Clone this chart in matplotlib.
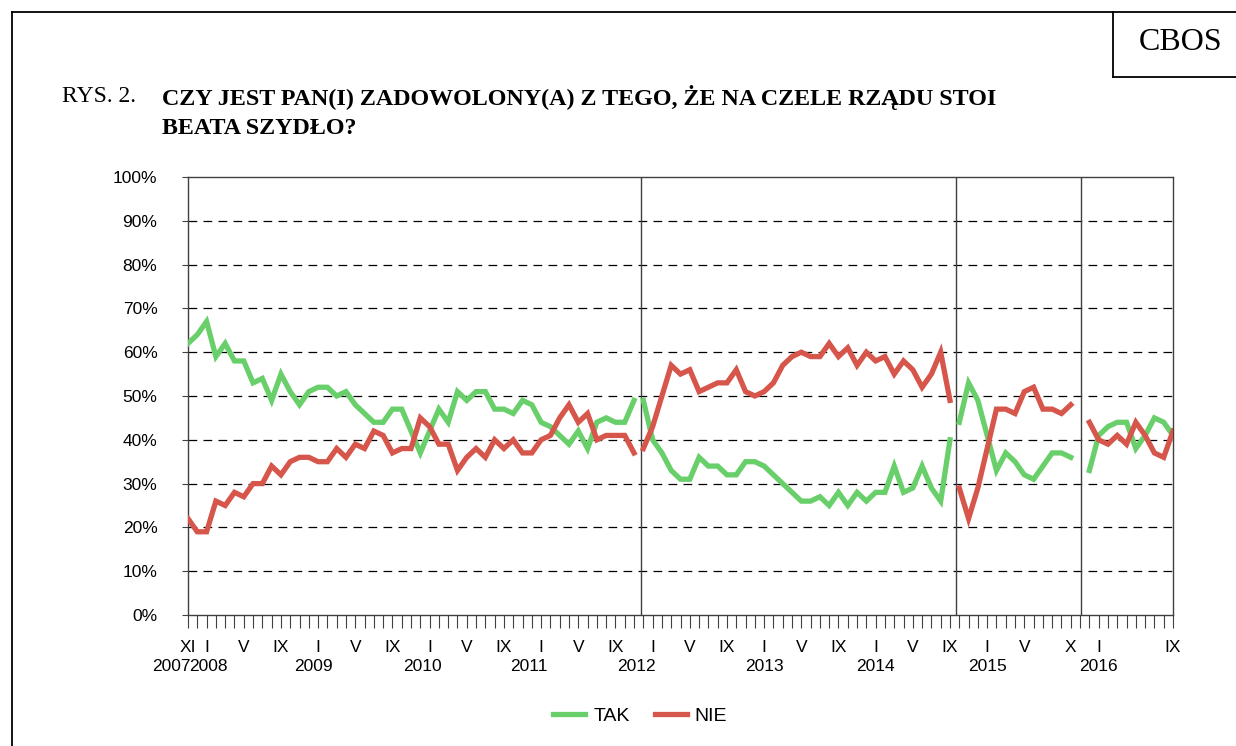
import numpy as np
import pandas as pd
import matplotlib
matplotlib.use("Agg")
import matplotlib.pyplot as plt
from matplotlib.lines import Line2D
from matplotlib.transforms import blended_transform_factory

# months on the category axis
months = pd.period_range("2007-11", "2016-09", freq="M")

# government periods (first month, last month)
periods = [("2007-11", "2011-11"), ("2011-12", "2014-09"),
           ("2014-10", "2015-10"), ("2015-12", "2016-09")]

tak_1 = [62, 64, 67, 59, 62, 58, 58, 53, 54, 49, 55, 51, 48, 51, 52, 52, 50, 51, 48, 46,
         44, 44, 47, 47, 42, 37, 42, 47, 44, 51, 49, 51, 51, 47, 47, 46, 49, 48, 44, 43,
         41, 39, 42, 38, 44, 45, 44, 44, 49]
nie_1 = [22, 19, 19, 26, 25, 28, 27, 30, 30, 34, 32, 35, 36, 36, 35, 35, 38, 36, 39, 38,
         42, 41, 37, 38, 38, 45, 43, 39, 39, 33, 36, 38, 36, 40, 38, 40, 37, 37, 40, 41,
         45, 48, 44, 46, 40, 41, 41, 41, 37]
tak_2 = [49, 40, 37, 33, 31, 31, 36, 34, 34, 32, 32, 35, 35, 34, 32, 30, 28, 26, 26, 27,
         25, 28, 25, 28, 26, 28, 28, 34, 28, 29, 34, 29, 26, 40]
nie_2 = [38, 43, 50, 57, 55, 56, 51, 52, 53, 53, 56, 51, 50, 51, 53, 57, 59, 60, 59, 59,
         62, 59, 61, 57, 60, 58, 59, 55, 58, 56, 52, 55, 60, 49]
tak_3 = [44, 53, 49, 41, 33, 37, 35, 32, 31, 34, 37, 37, 36]
nie_3 = [29, 22, 29, 38, 47, 47, 46, 51, 52, 47, 47, 46, 48]
tak_4 = [33, 41, 43, 44, 44, 38, 41, 45, 44, 41]
nie_4 = [44, 40, 39, 41, 39, 44, 41, 37, 36, 42]

tak = [tak_1, tak_2, tak_3, tak_4]
nie = [nie_1, nie_2, nie_3, nie_4]

month_labels = {"2007-11": "XI", "2008-01": "I", "2008-05": "V", "2008-09": "IX",
                "2009-01": "I", "2009-05": "V", "2009-09": "IX",
                "2010-01": "I", "2010-05": "V", "2010-09": "IX",
                "2011-01": "I", "2011-05": "V", "2011-09": "IX",
                "2012-01": "I", "2012-05": "V", "2012-09": "IX",
                "2013-01": "I", "2013-05": "V", "2013-09": "IX",
                "2014-01": "I", "2014-05": "V", "2014-09": "IX",
                "2015-01": "I", "2015-05": "V", "2015-10": "X",
                "2016-01": "I", "2016-09": "IX"}
years = ["2007", "2008", "2009", "2010", "2011", "2012", "2013", "2014", "2015", "2016"]
year_pos = [-1.8, 2.2, 13.5, 25.2, 36.7, 48.3, 62, 74, 86, 98]
separators = [48.75, 82.6, 96.1]

GREEN = "#68cf6b"
RED = "#d6564b"

plt.rcParams["font.family"] = ["Liberation Sans", "DejaVu Sans"]
fig = plt.figure(figsize=(12.36, 7.46), dpi=100)
W, H = 1236, 746
ax = fig.add_axes([188 / W, 1 - 615 / H, (1173 - 188) / W, (615 - 177) / H])

idx = {str(m): i for i, m in enumerate(months)}
for (a, b), t, n in zip(periods, tak, nie):
    x = np.arange(idx[a], idx[b] + 1)
    ax.plot(x, t, color=GREEN, lw=3.8, solid_joinstyle="miter", zorder=3)
    ax.plot(x, n, color=RED, lw=3.8, solid_joinstyle="miter", zorder=3)

for s in separators:
    ax.axvline(s, color="#404040", lw=1.0, zorder=2)

ax.set_xlim(0, len(months) - 1)
ax.set_ylim(0, 100)
ax.set_yticks(range(0, 101, 10))
ax.set_yticklabels([f"{v}%" for v in range(0, 101, 10)], fontsize=12.5)
for v in range(10, 100, 10):
    ax.axhline(v, color="black", lw=0.9, dashes=(7, 5), zorder=1)
ax.tick_params(axis="y", length=4, width=0.8, pad=18, color="#404040")
ax.set_xticks(np.arange(len(months)))
ax.set_xticklabels([])
ax.tick_params(axis="x", length=9, width=0.8, color="#404040")
for sp in ax.spines.values():
    sp.set_color("#404040")
    sp.set_linewidth(1.0)

tr = blended_transform_factory(ax.transData, ax.transAxes)
for m, lab in month_labels.items():
    ax.text(idx[m], -0.075, lab, transform=tr, ha="center", va="center", fontsize=12.5)
for yr, p in zip(years, year_pos):
    ax.text(p, -0.118, yr, transform=tr, ha="center", va="center", fontsize=12.5)

handles = [Line2D([], [], color=GREEN, lw=3.8), Line2D([], [], color=RED, lw=3.8)]
fig.legend(handles, ["TAK", "NIE"], loc="center", bbox_to_anchor=(0.518, 1 - 716 / H),
           ncol=2, frameon=False, fontsize=14, handlelength=1.65, columnspacing=1.3,
           handletextpad=0.4)

serif = ["Liberation Serif", "DejaVu Serif"]
fig.text(62 / W, 1 - 97 / H, "RYS. 2.", family=serif, fontsize=17, va="center")
fig.text(162 / W, 1 - 97 / H, "CZY JEST PAN(I) ZADOWOLONY(A) Z TEGO, ŻE NA CZELE RZĄDU STOI",
         family=serif, fontsize=17.25, weight="bold", va="center")
fig.text(162 / W, 1 - 128 / H, "BEATA SZYDŁO?", family=serif, fontsize=17.25,
         weight="bold", va="center")
fig.text(1181 / W, 1 - 43 / H, "CBOS", family=serif, fontsize=23, ha="center", va="center")

# page frame and CBOS box
for xs, ys in [((12, 12), (12, 746)), ((12, 1236), (12, 12)),
               ((1113, 1113), (12, 77)), ((1113, 1236), (77, 77))]:
    fig.add_artist(Line2D([x / W for x in xs], [1 - y / H for y in ys],
                          color="black", lw=1.3))

fig.savefig("out.png", dpi=100)
